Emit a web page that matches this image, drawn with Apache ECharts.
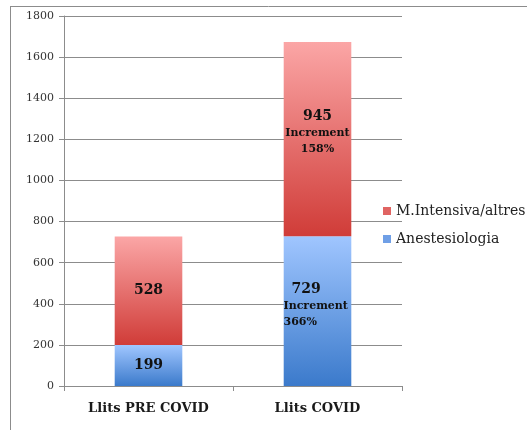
<!DOCTYPE html>
<html>
<head>
<meta charset="utf-8">
<script src="https://cdn.jsdelivr.net/npm/echarts@6/dist/echarts.min.js"></script>
<style>
html,body{margin:0;padding:0;background:#fff;}
#chart{width:527px;height:430px;}
</style>
</head>
<body>
<div id="chart"></div>
<script>
const categories = ['Llits PRE COVID', 'Llits COVID'];
const seriesNames = ['Anestesiologia', 'M.Intensiva/altres'];
const anestesiologia = [199, 729];
const intensiva = [528, 945];
const anestesiologiaNotes = ['', 'Increment\n366%'];
const intensivaNotes = ['', 'Increment\n158%'];
const yTicks = [0, 200, 400, 600, 800, 1000, 1200, 1400, 1600, 1800];

const FONT = '"DejaVu Serif", serif';
const chart = echarts.init(document.getElementById('chart'));

function grad(top, bottom) {
  return new echarts.graphic.LinearGradient(0, 0, 0, 1, [
    { offset: 0, color: top },
    { offset: 1, color: bottom }
  ]);
}

function richFmt(notes) {
  return function (p) {
    const note = notes[p.dataIndex];
    let s = '{num|' + p.value + '}';
    if (note) s += '\n' + note.split('\n').map(t => '{note|' + t + '}').join('\n');
    return s;
  };
}

const rich = {
  num: { fontFamily: FONT, fontWeight: 'bold', fontSize: 14, color: '#111', lineHeight: 18 },
  note: { fontFamily: FONT, fontWeight: 'bold', fontSize: 11, color: '#111', lineHeight: 16 }
};
const richBlue = {
  num: { fontFamily: FONT, fontWeight: 'bold', fontSize: 14, color: '#111', lineHeight: 18, padding: [0, 0, 0, 8] },
  note: { fontFamily: FONT, fontWeight: 'bold', fontSize: 11, color: '#111', lineHeight: 16 }
};

const blueData = anestesiologia.map((v, i) => {
  const d = { value: v };
  if (anestesiologiaNotes[i]) {
    d.label = { align: 'left', offset: [-34, -6], rich: richBlue };
  }
  return d;
});
const redData = intensiva.map((v, i) => {
  const d = { value: v };
  if (intensivaNotes[i]) {
    d.label = { offset: [0, -7] };
  }
  return d;
});

chart.setOption({
  animation: false,
  backgroundColor: '#fff',
  graphic: [
    { type: 'line', shape: { x1: 10, y1: 6.5, x2: 527, y2: 6.5 }, style: { stroke: '#8c8c8c', lineWidth: 1 } },
    { type: 'line', shape: { x1: 10.5, y1: 6, x2: 10.5, y2: 430 }, style: { stroke: '#8c8c8c', lineWidth: 1 } }
  ],
  grid: { left: 64, right: 125, top: 16, bottom: 44 },
  legend: {
    orient: 'vertical',
    left: 378,
    top: 199,
    itemWidth: 8,
    itemHeight: 8,
    itemGap: 14,
    icon: 'rect',
    textStyle: { fontFamily: FONT, fontSize: 14, color: '#222' },
    data: [
      { name: seriesNames[1], itemStyle: { color: '#e06462' } },
      { name: seriesNames[0], itemStyle: { color: '#6f9fe6' } }
    ]
  },
  xAxis: {
    type: 'category',
    data: categories,
    axisLine: { lineStyle: { color: '#8c8c8c' } },
    axisTick: { show: true, length: 5, lineStyle: { color: '#8c8c8c' } },
    axisLabel: { fontFamily: FONT, fontWeight: 'bold', fontSize: 13, color: '#1a1a1a', margin: 16 }
  },
  yAxis: {
    type: 'value',
    min: yTicks[0],
    max: yTicks[yTicks.length - 1],
    interval: 200,
    axisLine: { show: true, lineStyle: { color: '#8c8c8c' } },
    axisTick: { show: true, length: 5, lineStyle: { color: '#8c8c8c' } },
    axisLabel: { fontFamily: FONT, fontSize: 11, color: '#333', margin: 10, formatter: v => String(v) },
    splitLine: { lineStyle: { color: '#8c8c8c', width: 1 } }
  },
  series: [
    {
      name: seriesNames[0],
      type: 'bar',
      stack: 'total',
      barWidth: '40%',
      data: blueData,
      itemStyle: { color: grad('#a0c6ff', '#3b7acb') },
      label: { show: true, position: 'inside', formatter: richFmt(anestesiologiaNotes), rich: rich }
    },
    {
      name: seriesNames[1],
      type: 'bar',
      stack: 'total',
      barWidth: '40%',
      data: redData,
      itemStyle: { color: grad('#fba6a6', '#d03c38') },
      label: { show: true, position: 'inside', formatter: richFmt(intensivaNotes), rich: rich }
    }
  ]
});
</script>
</body>
</html>
